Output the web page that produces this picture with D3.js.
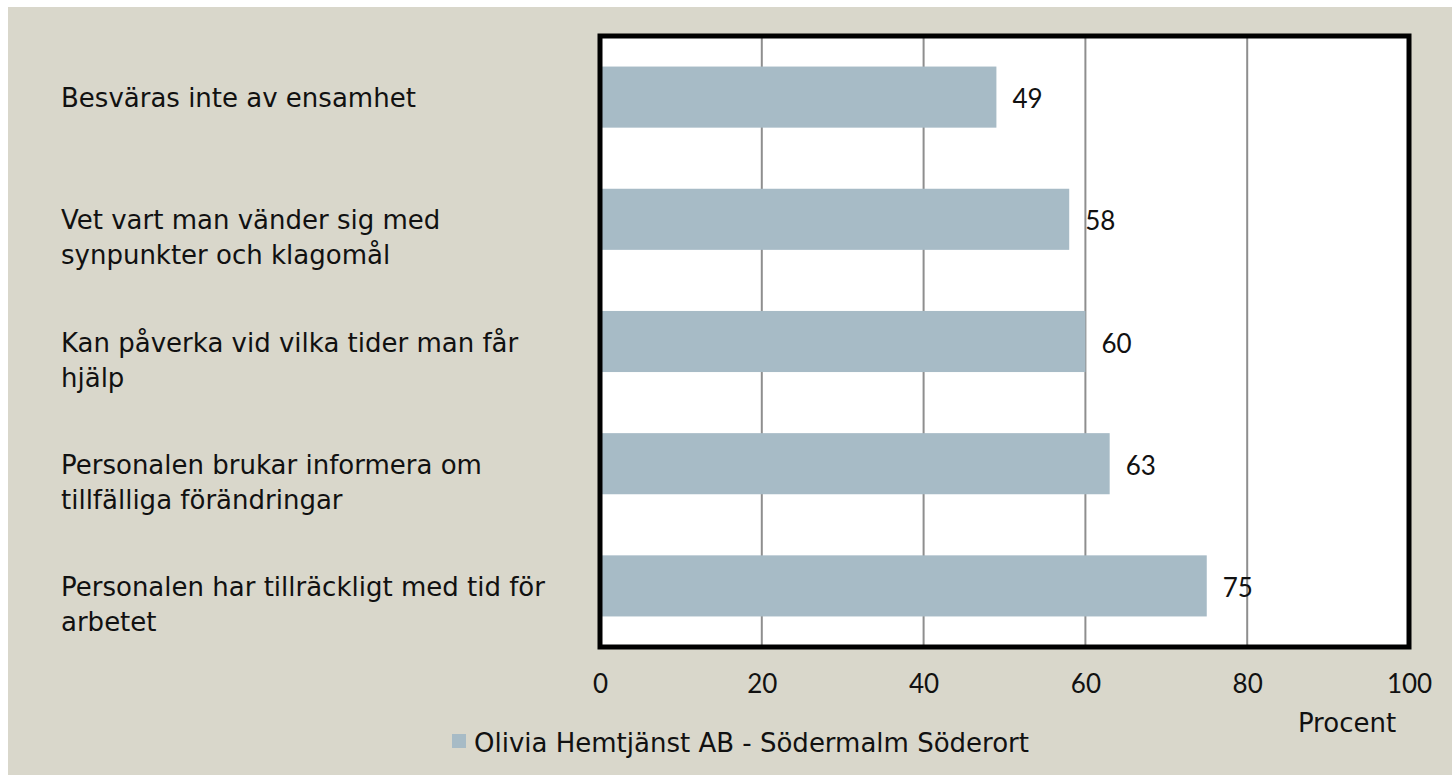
<!DOCTYPE html>
<html>
<head>
<meta charset="utf-8">
<script src="https://cdn.jsdelivr.net/npm/d3@7"></script>
<style>
  body { margin: 0; background: #ffffff; }
  text { font-family: "DejaVu Sans", sans-serif; fill: #111; }
  .num { font-family: Lato, "Noto Sans", sans-serif; }
</style>
</head>
<body>
<div id="chart"></div>
<script>
// data
var categories = [
    "Besväras inte av ensamhet",
    "Vet vart man vänder sig med\nsynpunkter och klagomål",
    "Kan påverka vid vilka tider man får\nhjälp",
    "Personalen brukar informera om\ntillfälliga förändringar",
    "Personalen har tillräckligt med tid för\narbetet"
];
var values = [49, 58, 60, 63, 75];
var ticks = [0, 20, 40, 60, 80, 100];
var seriesName = "Olivia Hemtjänst AB - Södermalm Söderort";
var axisTitle = "Procent";

// dimensions
var width = 1452;
var height = 775;
var barColor = "#a7bbc6";
var textSize = "26px";

var svg = d3.select("#chart")
    .append("svg")
    .attr("width", width)
    .attr("height", height);

// background
svg.append("rect")
    .attr("x", 8)
    .attr("y", 7)
    .attr("width", width - 8)
    .attr("height", height - 7)
    .attr("fill", "#d9d7cb");

var x = d3.scaleLinear().domain([0, 100]).range([600, 1409]);
var y = d3.scaleBand().domain(d3.range(categories.length))
    .range([36, 647])
    .paddingInner(0.5)
    .paddingOuter(0.25);

// plot area
svg.append("rect")
    .attr("x", x(0))
    .attr("y", 36)
    .attr("width", x(100) - x(0))
    .attr("height", 647 - 36)
    .attr("fill", "#ffffff");

// gridlines
svg.selectAll(".grid")
    .data(ticks.slice(1, -1))
    .enter()
    .append("line")
    .attr("class", "grid")
    .attr("x1", function (d) { return x(d); })
    .attr("x2", function (d) { return x(d); })
    .attr("y1", 36)
    .attr("y2", 647)
    .attr("stroke", "#8e8e8e")
    .attr("stroke-width", 2);

// bars
svg.selectAll(".bar")
    .data(values)
    .enter()
    .append("rect")
    .attr("class", "bar")
    .attr("x", x(0))
    .attr("y", function (d, i) { return y(i); })
    .attr("width", function (d) { return x(d) - x(0); })
    .attr("height", y.bandwidth())
    .attr("fill", barColor);

// value labels
svg.selectAll(".val")
    .data(values)
    .enter()
    .append("text")
    .attr("class", "val num")
    .attr("x", function (d) { return x(d) + 16; })
    .attr("y", function (d, i) { return y(i) + y.bandwidth() / 2 + 11; })
    .attr("font-size", "26px")
    .text(function (d) { return d; });

// frame
svg.append("rect")
    .attr("x", x(0))
    .attr("y", 36)
    .attr("width", x(100) - x(0))
    .attr("height", 647 - 36)
    .attr("fill", "none")
    .attr("stroke", "#000")
    .attr("stroke-width", 5);

// category labels
var cat = svg.selectAll(".cat")
    .data(categories)
    .enter()
    .append("text")
    .attr("class", "cat")
    .attr("font-size", textSize)
    .attr("y", function (d, i) { return y(i) + y.bandwidth() / 2 + 10; });

cat.selectAll("tspan")
    .data(function (d) { return d.split("\n"); })
    .enter()
    .append("tspan")
    .attr("x", 61)
    .attr("dy", function (d, i) { return i == 0 ? 0 : 35; })
    .text(function (d) { return d; });

// x axis
var axis = svg.append("g")
    .attr("transform", "translate(0,693)")
    .call(d3.axisBottom(x).tickValues(ticks).tickSize(0).tickPadding(0));
axis.select(".domain").remove();
axis.selectAll("text")
    .attr("dy", 0)
    .attr("class", "num")
    .attr("font-size", "26px")
    .style("font-family", "Lato, 'Noto Sans', sans-serif")
    .attr("fill", "#111");

svg.append("text")
    .attr("x", 1347)
    .attr("y", 732)
    .attr("text-anchor", "middle")
    .attr("font-size", textSize)
    .text(axisTitle);

// legend
svg.append("rect")
    .attr("x", 452)
    .attr("y", 734)
    .attr("width", 14)
    .attr("height", 14)
    .attr("fill", barColor);

svg.append("text")
    .attr("x", 474)
    .attr("y", 752)
    .attr("font-size", textSize)
    .text(seriesName);
</script>
</body>
</html>
